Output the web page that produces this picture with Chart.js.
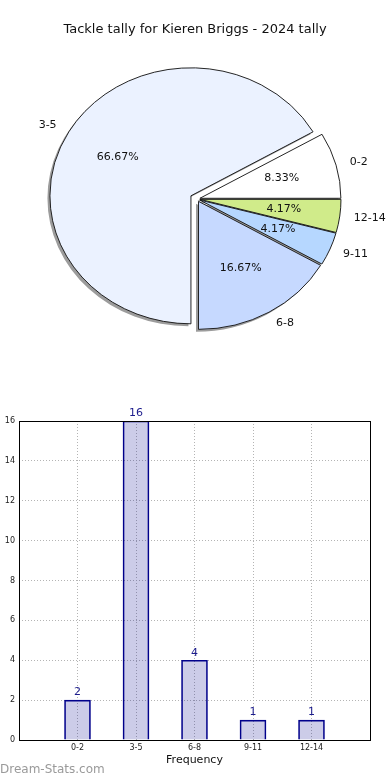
<!DOCTYPE html>
<html lang="en">
<head>
  <meta charset="UTF-8">
  <title>Tackle tally for Kieren Briggs - 2024 tally</title>
  <script src="https://cdn.jsdelivr.net/npm/chart.js@4.4.1/dist/chart.umd.min.js"></script>
  <style>
    body {
      margin: 0;
      background: #fff;
      width: 390px;
      height: 780px;
      position: relative;
      overflow: hidden;
    }
    canvas {
      position: absolute;
      left: 0;
    }
    #pieChart { top: 0; }
    #barChart { top: 380px; }
  </style>
</head>
<body>
  <canvas id="pieChart" width="390" height="398"></canvas>
  <canvas id="barChart" width="390" height="400"></canvas>

  <script>
    // data
    const categories = ['0-2', '3-5', '6-8', '9-11', '12-14'];
    const counts = [2, 16, 4, 1, 1];
    const sliceColors = ['#ffffff', '#ebf2ff', '#c6d9ff', '#b6d7ff', '#d0eb8a'];
    const yMax = 16;
    const yStep = 2;

    const FONT = '"DejaVu Sans", sans-serif';
    const total = counts.reduce((a, b) => a + b, 0);

    // pie is drawn counter-clockwise from 3 o'clock, so feed Chart.js the reversed order
    const pieOrder = categories.map((c, i) => i).reverse();
    const explodePx = [3, 7, 3, 3, 3];   // per category
    const squash = 128 / 141;            // the original pie is a bit flattened

    const pieDecor = {
      id: 'pieDecor',
      beforeDatasetsDraw(chart) {
        const ctx = chart.ctx;
        const arcs = chart.getDatasetMeta(0).data;
        const cx = arcs[0].x, cy = arcs[0].y;
        ctx.save();
        ctx.translate(cx, cy);
        ctx.scale(1, squash);
        ctx.translate(-cx, -cy);

        // shadows first, under every wedge
        ctx.fillStyle = '#9c9c9c';
        arcs.forEach((arc, i) => {
          const mid = (arc.startAngle + arc.endAngle) / 2;
          const t = explodePx[pieOrder[i]];
          const sx = cx + Math.cos(mid) * t - 2.5;
          const sy = cy + Math.sin(mid) * t + 2.5 / squash;
          ctx.beginPath();
          ctx.moveTo(sx, sy);
          ctx.arc(sx, sy, arc.outerRadius, arc.startAngle, arc.endAngle);
          ctx.closePath();
          ctx.fill();
        });

        arcs.forEach((arc, i) => {
          const mid = (arc.startAngle + arc.endAngle) / 2;
          const t = explodePx[pieOrder[i]];
          ctx.save();
          ctx.translate(Math.cos(mid) * t, Math.sin(mid) * t);
          arc.draw(ctx, chart.chartArea);
          ctx.restore();
        });
        ctx.restore();
        return false;
      },
      afterDraw(chart) {
        const ctx = chart.ctx;
        const arcs = chart.getDatasetMeta(0).data;
        ctx.save();
        ctx.fillStyle = '#111';
        ctx.font = '11px ' + FONT;
        ctx.textBaseline = 'middle';
        arcs.forEach((arc, i) => {
          const k = pieOrder[i];
          const r = arc.outerRadius;
          const mid = (arc.startAngle + arc.endAngle) / 2;
          const t = explodePx[k];
          const ex = arc.x + Math.cos(mid) * t;
          const ey = arc.y + Math.sin(mid) * t * squash;
          ctx.textAlign = Math.cos(mid) > 0 ? 'left' : 'right';
          ctx.fillText(categories[k], ex + 1.1 * r * Math.cos(mid), ey + 1.1 * r * squash * Math.sin(mid));
          ctx.textAlign = 'center';
          const pct = (counts[k] / total * 100).toFixed(2) + '%';
          ctx.fillText(pct, ex + 0.6 * r * Math.cos(mid), ey + 0.6 * r * squash * Math.sin(mid));
        });

        ctx.font = '13px ' + FONT;
        ctx.fillStyle = '#111';
        ctx.textAlign = 'center';
        ctx.fillText('Tackle tally for Kieren Briggs - 2024 tally', 195, 30);
        ctx.restore();
      }
    };

    new Chart(document.getElementById('pieChart'), {
      type: 'pie',
      data: {
        labels: pieOrder.map(i => categories[i]),
        datasets: [{
          data: pieOrder.map(i => counts[i]),
          backgroundColor: pieOrder.map(i => sliceColors[i]),
          borderColor: '#1a1a1a',
          borderWidth: 1,
          clip: false
        }]
      },
      options: {
        responsive: false,
        animation: false,
        rotation: 90,
        radius: 141,
        layout: { padding: { left: 4 } },
        plugins: { legend: { display: false }, tooltip: { enabled: false } }
      },
      plugins: [pieDecor]
    });

    // bar chart
    const barDecor = {
      id: 'barDecor',
      afterDraw(chart) {
        const ctx = chart.ctx;
        const a = chart.chartArea;
        ctx.save();
        ctx.strokeStyle = '#000';
        ctx.lineWidth = 1;
        ctx.strokeRect(a.left + 0.5, a.top + 0.5, a.right - a.left, a.bottom - a.top);

        ctx.fillStyle = '#1c1c8c';
        ctx.font = '11px ' + FONT;
        ctx.textAlign = 'center';
        ctx.textBaseline = 'bottom';
        chart.getDatasetMeta(0).data.forEach((bar, i) => {
          ctx.fillText(String(counts[i]), bar.x, bar.y - 2);
        });

        ctx.fillStyle = '#111';
        ctx.textBaseline = 'middle';
        ctx.fillText('Frequency', (a.left + a.right) / 2, 380);

        ctx.save();
        ctx.translate(-3, (a.top + a.bottom) / 2);
        ctx.rotate(-Math.PI / 2);
        ctx.fillText('Total Tackles', 0, 0);
        ctx.restore();

        ctx.fillStyle = '#9a9a9a';
        ctx.font = '12px ' + FONT;
        ctx.textAlign = 'left';
        ctx.fillText('Dream-Stats.com', 0, 390);
        ctx.restore();
      }
    };

    const gridStyle = { color: '#b4b4b4', drawTicks: false, offset: false };
    const borderStyle = { display: false, dash: [1, 2] };

    new Chart(document.getElementById('barChart'), {
      type: 'bar',
      data: {
        datasets: [{
          data: counts.map((v, i) => ({ x: i, y: v })),
          backgroundColor: 'rgba(0, 0, 140, 0.2)',
          borderColor: '#00008b',
          borderWidth: 1,
          barThickness: 26
        }]
      },
      options: {
        responsive: false,
        animation: false,
        layout: { padding: { top: 41, right: 20, left: 0, bottom: 0 } },
        plugins: { legend: { display: false }, tooltip: { enabled: false } },
        scales: {
          x: {
            type: 'linear',
            min: -1,
            max: 5,
            offset: false,
            afterBuildTicks: (s) => { s.ticks = categories.map((c, i) => ({ value: i })); },
            afterFit: (s) => { s.height = 40; },
            ticks: {
              callback: (v) => categories[Math.round(v)],
              font: { family: FONT, size: 8 },
              color: '#222',
              padding: 3,
              autoSkip: false,
              maxRotation: 0
            },
            grid: gridStyle,
            border: borderStyle
          },
          y: {
            min: 0,
            max: yMax,
            afterFit: (s) => { s.width = 19; },
            ticks: {
              stepSize: yStep,
              font: { family: FONT, size: 8 },
              color: '#222',
              padding: 4
            },
            grid: gridStyle,
            border: borderStyle
          }
        }
      },
      plugins: [barDecor]
    });
  </script>
</body>
</html>
